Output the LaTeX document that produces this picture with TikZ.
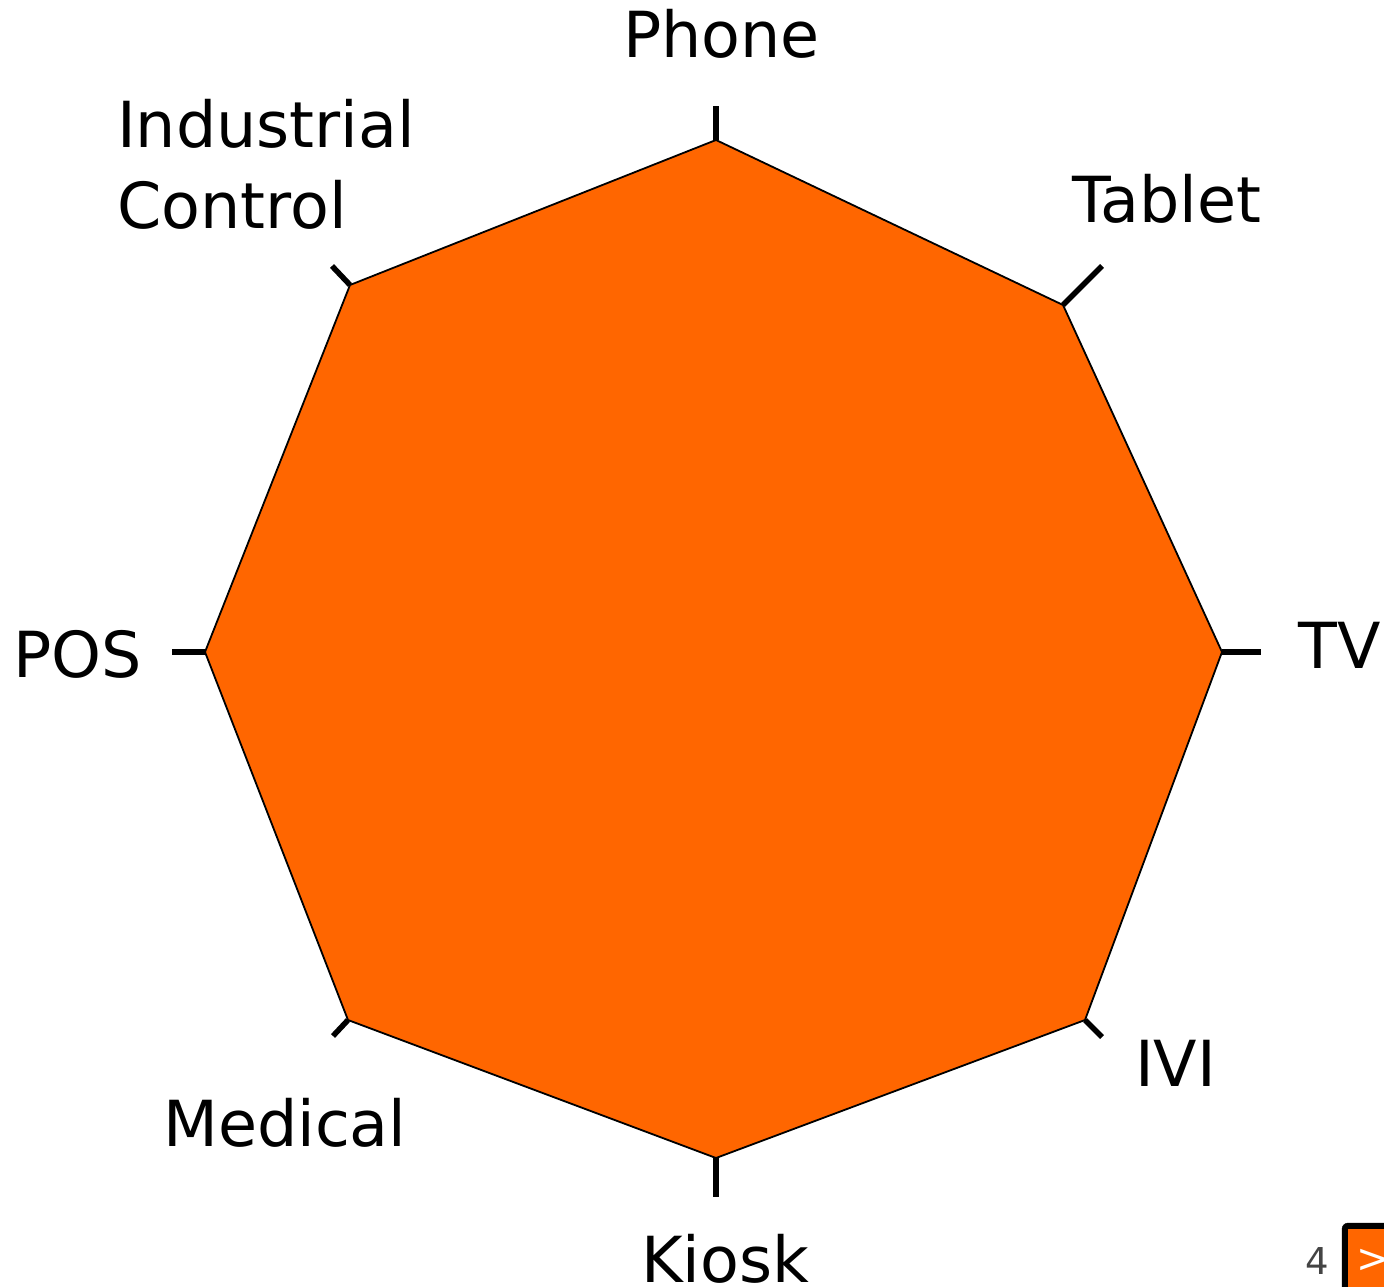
\documentclass[tikz,border=0pt]{standalone}
\usepackage{fontspec}
\setmainfont{DejaVu Sans}
\definecolor{radar}{HTML}{FF6600}
\definecolor{pagegray}{HTML}{444444}
\begin{document}
\begin{tikzpicture}[x=1pt,y=-1pt,
  lbl/.style={font=\fontsize{63.5}{80}\selectfont, inner sep=0pt, anchor=base west},
  tickline/.style={line width=5.5pt, black},
  shapeline/.style={line width=1.8pt, black, fill=radar, line join=miter}]
\useasboundingbox (0,0) rectangle (1384,1287);
% vertices
\coordinate (vPhone) at (716,140);
\coordinate (vTablet) at (1063,305);
\coordinate (vTV) at (1222,652);
\coordinate (vIVI) at (1085,1020);
\coordinate (vKiosk) at (716,1158);
\coordinate (vMedical) at (348,1020);
\coordinate (vPOS) at (205,652);
\coordinate (vInd) at (350,285);
% tick ends
\coordinate (tPhone) at (716,106);
\coordinate (tTablet) at (1102,266);
\coordinate (tTV) at (1261,652);
\coordinate (tIVI) at (1102,1037);
\coordinate (tKiosk) at (716,1197);
\coordinate (tMedical) at (333,1036);
\coordinate (tPOS) at (172,652);
\coordinate (tInd) at (332,266);
\foreach \n in {Phone,Tablet,TV,IVI,Kiosk,Medical,POS,Ind}
  \draw[tickline] (v\n) -- (t\n);
\draw[shapeline] (vPhone) -- (vTablet) -- (vTV) -- (vIVI) -- (vKiosk) -- (vMedical) -- (vPOS) -- (vInd) -- cycle;
% labels
\node[lbl] (lPhone) at (623,58) {Phone};
\node[lbl] (lInd1) at (117,148) {Industrial};
\node[lbl] (lInd2) at (117,228) {Control};
\node[lbl] (lTablet) at (1072,222) {Tablet};
\node[lbl] (lTV) at (1298,668) {TV};
\node[lbl] (lIVI) at (1135,1086) {IVI};
\node[lbl] (lPOS) at (13,677) {POS};
\node[lbl] (lMedical) at (163,1146) {Medical};
\node[lbl] (lKiosk) at (641,1282) {Kiosk};
% page widget
\node[font=\fontsize{37}{40}\selectfont, text=pagegray, inner sep=0pt, anchor=base west] (pg) at (1305,1274) {4};
\draw[fill=black, rounded corners=6pt] (1342,1223) rectangle (1400,1300);
\fill[radar] (1348,1229) rectangle (1400,1300);
\node[font=\fontsize{40}{44}\selectfont, text=white, inner sep=0pt, anchor=base west] (btn) at (1356,1272) {>};
\end{tikzpicture}
\end{document}
